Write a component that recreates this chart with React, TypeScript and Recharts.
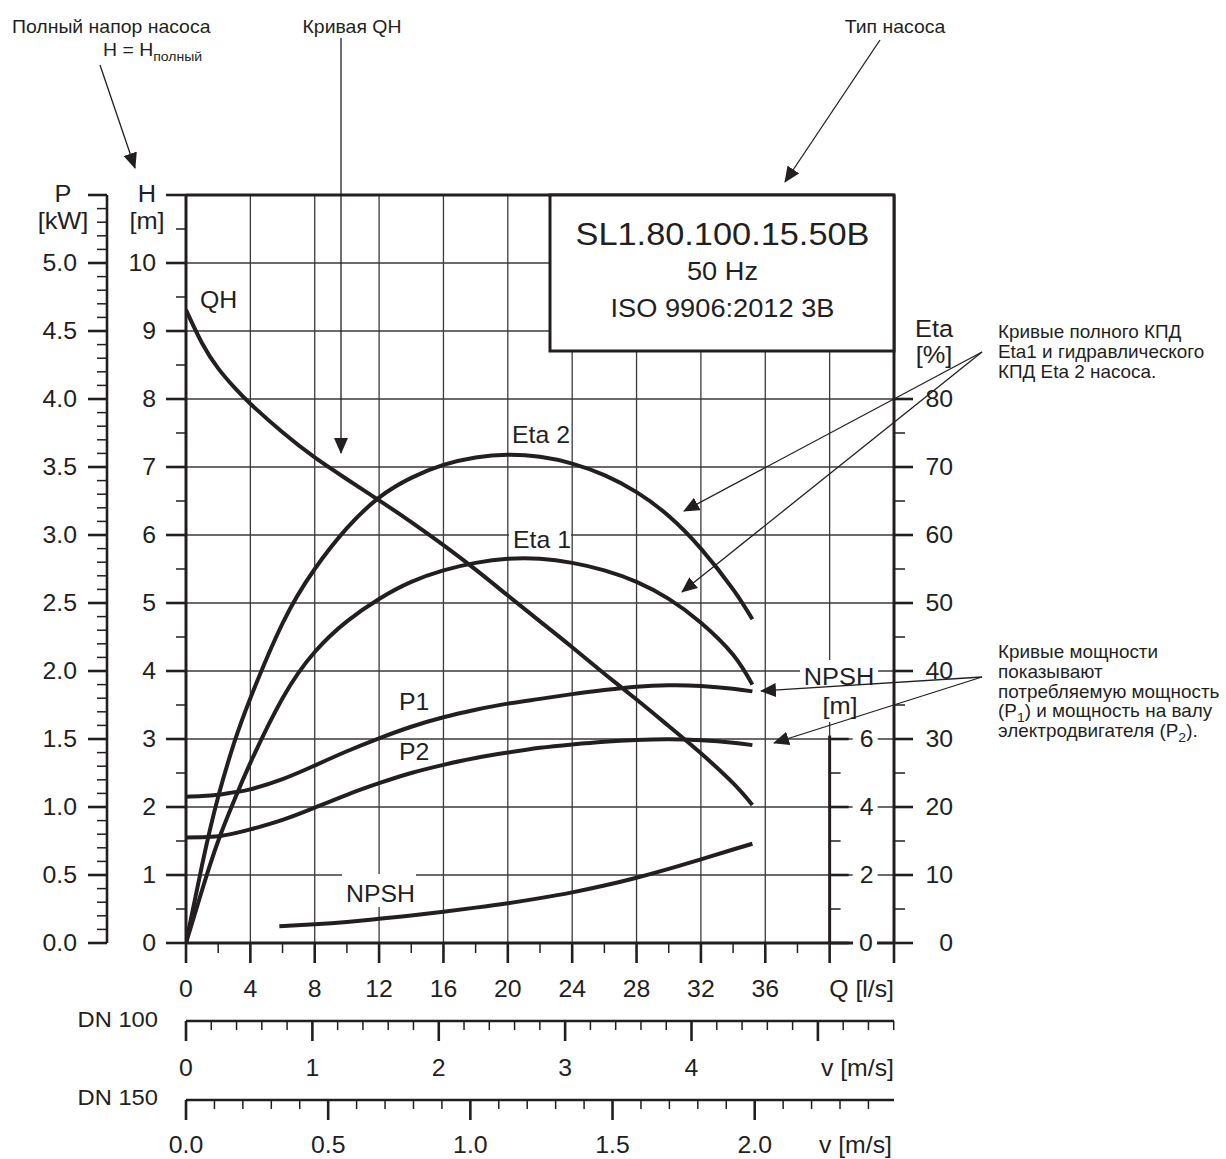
import React from 'react';
import {
  LineChart,
  Line,
  XAxis,
  YAxis,
  CartesianGrid,
  ReferenceLine,
  ReferenceDot,
} from 'recharts';

const INK = '#231f20';
const FONT = '"Liberation Sans", Arial, Helvetica, sans-serif';
const SX = 1.08; // source lettering is slightly wide

// --- curve data (Q in l/s) ---
const flow = [0, 1, 2, 3, 4, 6, 8, 10, 12, 14, 16, 18, 20, 22, 24, 26, 28, 30, 32, 34, 35.2];
const headQH = [9.31, 8.82, 8.45, 8.17, 7.93, 7.51, 7.14, 6.82, 6.51, 6.19, 5.85, 5.49, 5.11, 4.73, 4.35, 3.96, 3.58, 3.19, 2.79, 2.35, 2.03];
const eta2 = [0, 11.5, 21.5, 29.5, 36, 47, 55, 61, 65.5, 68.4, 70.3, 71.4, 71.8, 71.5, 70.5, 68.8, 66.3, 62.8, 58, 52, 47.6];
const eta1 = [0, 7.8, 15, 21, 26.5, 36, 42.8, 47.3, 50.6, 53.1, 54.8, 55.9, 56.5, 56.5, 55.9, 54.8, 53.1, 50.6, 47.1, 42.4, 38];
const powerP1 = [1.075, 1.08, 1.09, 1.108, 1.13, 1.205, 1.305, 1.41, 1.505, 1.59, 1.66, 1.715, 1.76, 1.795, 1.83, 1.86, 1.885, 1.895, 1.89, 1.87, 1.85];
const powerP2 = [0.775, 0.778, 0.785, 0.806, 0.835, 0.905, 0.995, 1.09, 1.175, 1.25, 1.31, 1.36, 1.4, 1.435, 1.46, 1.48, 1.493, 1.498, 1.49, 1.472, 1.455];
const npshFlow = [5.8, 8, 10, 12, 14, 16, 18, 20, 22, 24, 26, 28, 30, 32, 34, 35.2];
const npshReq = [0.49, 0.55, 0.62, 0.71, 0.81, 0.92, 1.04, 1.17, 1.32, 1.49, 1.69, 1.92, 2.18, 2.46, 2.75, 2.92];

// --- axes ---
const Q_MAX = 44;
const H_MAX = 11;
const DN100_AREA = Math.PI * 0.05 * 0.05 * 1000; // l/s per m/s
const DN150_AREA = Math.PI * 0.075 * 0.075 * 1000;

const range = (a: number, b: number, step: number) => {
  const out: number[] = [];
  const n = Math.round((b - a) / step);
  for (let i = 0; i <= n; i++) out.push(+(a + i * step).toFixed(4));
  return out;
};

const qTicks = range(0, 44, 2);
const hTicks = range(0, 11, 0.5);
const pTicks = range(0, 5.5, 0.1);
const etaTicks = range(0, 80, 5);
const npshTicks = [0, 1, 2, 3, 4, 5, 6];
const dn100Speeds = range(0, 5.6, 0.2);
const dn150Speeds = range(0, 2.4, 0.1);
const hGrid = range(1, 10, 1);
const qGrid = range(4, 40, 4);

const toRows = (xs: number[], ys: number[]) => xs.map((q, i) => ({ q, v: ys[i] }));
const qhData = toRows(flow, headQH);
const eta1Data = toRows(flow, eta1);
const eta2Data = toRows(flow, eta2);
const p1Data = toRows(flow, powerP1);
const p2Data = toRows(flow, powerP2);
const npshData = toRows(npshFlow, npshReq);

const isMult = (v: number, m: number) => Math.abs(v / m - Math.round(v / m)) < 1e-6;

const Txt = ({ x, y, anchor = 'start', size = 23, children }: any) => (
  <text
    transform={`translate(${x} ${y}) scale(${SX} 1)`}
    textAnchor={anchor}
    fontSize={size}
    fontFamily={FONT}
    fill={INK}
  >
    {children}
  </text>
);
const Sub = ({ children }: any) => <tspan dy={5} fontSize={13}>{children}</tspan>;
const Up = ({ children }: any) => <tspan dy={-5}>{children}</tspan>;

const tickLine = (x1: number, y1: number, x2: number, y2: number, major: boolean) => (
  <line x1={x1} y1={y1} x2={x2} y2={y2} stroke={INK} strokeWidth={major ? 2.6 : 1.5} />
);

const HTick = ({ x, y, payload }: any) => {
  const v = payload.value;
  const major = isMult(v, 1);
  return (
    <g>
      {tickLine(x - (major ? 20 : 10), y, x, y, major)}
      {major && v <= 10 && <Txt x={x - 30} y={y + 8.3} anchor="end">{v}</Txt>}
    </g>
  );
};

const PTick = ({ x, y, payload }: any) => {
  const v = payload.value;
  const major = isMult(v, 0.5);
  return (
    <g>
      {tickLine(x - (major ? 19 : 10), y, x, y, major)}
      {major && v <= 5 && <Txt x={x - 30} y={y + 8.3} anchor="end">{v.toFixed(1)}</Txt>}
    </g>
  );
};

const EtaTick = ({ x, y, payload }: any) => {
  const v = payload.value;
  const major = isMult(v, 10);
  return (
    <g>
      {tickLine(x, y, x + (major ? 19 : 11), y, major)}
      {major && <Txt x={x + 59} y={y + 8.3} anchor="end">{v}</Txt>}
    </g>
  );
};

const QTick = ({ x, y, payload }: any) => {
  const v = payload.value;
  const major = isMult(v, 4);
  return (
    <g>
      {tickLine(x, y, x, y + (major ? 20 : 10), major)}
      {v <= 36 && major && <Txt x={x} y={y + 54} anchor="middle">{v}</Txt>}
      {v === Q_MAX && <Txt x={x} y={y + 54} anchor="end">Q [l/s]</Txt>}
    </g>
  );
};

// velocity scales: tick values are flows, labels are speeds
const SpeedTick = ({ x, y, payload, area, step, last, dy, digits }: any) => {
  const s = +(payload.value / area).toFixed(4);
  const major = isMult(s, step);
  return (
    <g>
      {tickLine(x, y, x, y + (major ? 20 : 9), major)}
      {major && s <= last && <Txt x={x} y={y + dy} anchor="middle">{s.toFixed(digits)}</Txt>}
    </g>
  );
};

const NpshMark = ({ cx, cy, v }: any) => {
  const major = isMult(v, 2);
  return (
    <g>
      {tickLine(cx, cy, cx + (major ? 19 : 11), cy, major)}
      {major && v > 0 && (
        <>
          <rect x={cx + 23} y={cy - 12} width={25} height={24} fill="#fff" />
          <Txt x={cx + 37} y={cy + 8.3} anchor="middle">{v}</Txt>
        </>
      )}
    </g>
  );
};

const Arrow = ({ x1, y1, x2, y2 }: any) => (
  <line x1={x1} y1={y1} x2={x2} y2={y2} stroke={INK} strokeWidth={1.3} markerEnd="url(#head)" />
);

const curve = (data: any[], yAxisId: string, key: string) => (
  <Line
    key={key}
    data={data}
    dataKey="v"
    xAxisId="x1"
    yAxisId={yAxisId}
    type="natural"
    stroke={INK}
    strokeWidth={4}
    dot={false}
    activeDot={false}
    isAnimationActive={false}
  />
);

export default function App() {
  return (
    <div style={{ position: 'absolute', left: 0, top: 0, width: 1226, height: 1159, background: '#fff', fontFamily: FONT }}>
      <LineChart width={1226} height={1159} data={qhData} margin={{ top: 195, right: 252, bottom: 0, left: 0 }}>
        <CartesianGrid
          xAxisId="x1"
          yAxisId="h"
          horizontalValues={hGrid}
          verticalValues={qGrid}
          stroke="#3a3a3a"
          strokeWidth={1.3}
        />
        <XAxis
          xAxisId="x1"
          dataKey="q"
          type="number"
          domain={[0, Q_MAX]}
          allowDataOverflow
          ticks={qTicks}
          interval={0}
          height={78}
          tickSize={0}
          tickMargin={0}
          tickLine={false}
          axisLine={{ stroke: INK, strokeWidth: 3 }}
          tick={(p: any) => <QTick {...p} />}
        />
        <XAxis
          xAxisId="x2"
          dataKey="q"
          type="number"
          domain={[0, Q_MAX]}
          allowDataOverflow
          ticks={dn100Speeds.map((s) => s * DN100_AREA)}
          interval={0}
          height={79}
          tickSize={0}
          tickMargin={0}
          tickLine={false}
          axisLine={{ stroke: INK, strokeWidth: 2.6 }}
          tick={(p: any) => <SpeedTick {...p} area={DN100_AREA} step={1} last={4} dy={55} digits={0} />}
        />
        <XAxis
          xAxisId="x3"
          dataKey="q"
          type="number"
          domain={[0, Q_MAX]}
          allowDataOverflow
          ticks={dn150Speeds.map((s) => s * DN150_AREA)}
          interval={0}
          height={59}
          tickSize={0}
          tickMargin={0}
          tickLine={false}
          axisLine={{ stroke: INK, strokeWidth: 2.6 }}
          tick={(p: any) => <SpeedTick {...p} area={DN150_AREA} step={0.5} last={2} dy={53} digits={1} />}
        />
        <YAxis
          yAxisId="h"
          orientation="left"
          type="number"
          domain={[0, H_MAX]}
          allowDataOverflow
          ticks={hTicks}
          interval={0}
          width={79}
          tickSize={0}
          tickMargin={0}
          tickLine={false}
          axisLine={{ stroke: INK, strokeWidth: 3 }}
          tick={(p: any) => <HTick {...p} />}
        />
        <YAxis
          yAxisId="p"
          orientation="left"
          type="number"
          domain={[0, 5.5]}
          allowDataOverflow
          ticks={pTicks}
          interval={0}
          width={107}
          tickSize={0}
          tickMargin={0}
          tickLine={false}
          axisLine={{ stroke: INK, strokeWidth: 2.6 }}
          tick={(p: any) => <PTick {...p} />}
        />
        <YAxis
          yAxisId="eta"
          orientation="right"
          type="number"
          domain={[0, 110]}
          allowDataOverflow
          ticks={etaTicks}
          interval={0}
          width={80}
          tickSize={0}
          tickMargin={0}
          tickLine={false}
          axisLine={{ stroke: INK, strokeWidth: 3 }}
          tick={(p: any) => <EtaTick {...p} />}
        />
        <YAxis yAxisId="npsh" orientation="right" width={0} hide type="number" domain={[0, 22]} allowDataOverflow />

        <ReferenceLine xAxisId="x1" yAxisId="h" y={H_MAX} stroke={INK} strokeWidth={3} />
        <ReferenceLine
          xAxisId="x1"
          yAxisId="npsh"
          segment={[{ x: 40, y: 0 }, { x: 40, y: 6.1 }]}
          stroke={INK}
          strokeWidth={3}
        />
        {npshTicks.map((t) => (
          <ReferenceDot
            key={`n${t}`}
            xAxisId="x1"
            yAxisId="npsh"
            x={40}
            y={t}
            r={0}
            shape={(p: any) => <NpshMark {...p} v={t} />}
          />
        ))}

        {curve(qhData, 'h', 'qh')}
        {curve(eta2Data, 'eta', 'eta2')}
        {curve(eta1Data, 'eta', 'eta1')}
        {curve(p1Data, 'p', 'p1')}
        {curve(p2Data, 'p', 'p2')}
        {curve(npshData, 'npsh', 'npsh')}
      </LineChart>

      <svg
        width={1226}
        height={1159}
        style={{ position: 'absolute', left: 0, top: 0, pointerEvents: 'none' }}
      >
        <defs>
          <marker id="head" markerWidth={16} markerHeight={14} refX={15} refY={7} orient="auto" markerUnits="userSpaceOnUse">
            <path d="M0,0 L16,7 L0,14 z" fill={INK} />
          </marker>
        </defs>

        {/* type plate */}
        <rect x={550} y={195} width={344} height={156} fill="#fff" stroke={INK} strokeWidth={3} />
        <Txt x={722.5} y={245} anchor="middle" size={31.8}>SL1.80.100.15.50B</Txt>
        <Txt x={722.5} y={280} anchor="middle" size={25.2}>50 Hz</Txt>
        <Txt x={722.5} y={316.7} anchor="middle" size={25.2}>ISO 9906:2012 3B</Txt>

        {/* axis titles */}
        <Txt x={63} y={201.7} anchor="middle" size={23.5}>P</Txt>
        <Txt x={63} y={229} anchor="middle" size={23.5}>[kW]</Txt>
        <Txt x={147} y={201.7} anchor="middle" size={23.5}>H</Txt>
        <Txt x={147} y={229} anchor="middle" size={23.5}>[m]</Txt>
        <Txt x={934} y={336.7} anchor="middle" size={23.5}>Eta</Txt>
        <Txt x={934} y={363} anchor="middle" size={23.5}>[%]</Txt>
        <rect x={800} y={660} width={78} height={62} fill="#fff" />
        <Txt x={839} y={685} anchor="middle" size={23.5}>NPSH</Txt>
        <Txt x={840} y={714} anchor="middle" size={23.5}>[m]</Txt>
        <rect x={853} y={932} width={24} height={22} fill="#fff" />
        <Txt x={866} y={951.3} anchor="middle">0</Txt>
        <Txt x={158} y={1026.7} anchor="end" size={22}>DN 100</Txt>
        <Txt x={158} y={1105} anchor="end" size={22}>DN 150</Txt>
        <Txt x={894} y={1076} anchor="end">v [m/s]</Txt>
        <Txt x={892} y={1153} anchor="end">v [m/s]</Txt>

        {/* curve labels */}
        <Txt x={200} y={308}>QH</Txt>
        <Txt x={512} y={443}>Eta 2</Txt>
        <rect x={509} y={528} width={62} height={24} fill="#fff" />
        <Txt x={513} y={548}>Eta 1</Txt>
        <Txt x={399} y={710}>P1</Txt>
        <rect x={395} y={741} width={35} height={23} fill="#fff" />
        <Txt x={399} y={760}>P2</Txt>
        <rect x={342} y={874} width={74} height={33} fill="#fff" />
        <Txt x={346} y={901.7}>NPSH</Txt>

        {/* annotations */}
        <Txt x={12} y={33} size={18}>Полный напор насоса</Txt>
        <Txt x={103} y={56} size={18}>
          H = H<Sub>полный</Sub>
        </Txt>
        <Txt x={352} y={33} anchor="middle" size={18}>Кривая QH</Txt>
        <Txt x={895} y={33} anchor="middle" size={18}>Тип насоса</Txt>
        <Arrow x1={100} y1={65} x2={135} y2={168} />
        <Arrow x1={341} y1={38} x2={341} y2={453} />
        <Arrow x1={880} y1={40} x2={785} y2={182} />

        <Txt x={998} y={338} size={17.5}>Кривые полного КПД</Txt>
        <Txt x={998} y={358} size={17.5}>Eta1 и гидравлического</Txt>
        <Txt x={998} y={378} size={17.5}>КПД Eta 2 насоса.</Txt>
        <Arrow x1={982} y1={352} x2={684} y2={511} />
        <Arrow x1={982} y1={352} x2={682} y2={592} />

        <Txt x={998} y={658} size={17.5}>Кривые мощности</Txt>
        <Txt x={998} y={678} size={17.5}>показывают</Txt>
        <Txt x={998} y={697.5} size={17.5}>потребляемую мощность</Txt>
        <Txt x={998} y={717} size={17.5}>
          (P<Sub>1</Sub><Up>) и мощность на валу</Up>
        </Txt>
        <Txt x={998} y={736.5} size={17.5}>
          электродвигателя (P<Sub>2</Sub><Up>).</Up>
        </Txt>
        <Arrow x1={982} y1={677} x2={761} y2={691} />
        <Arrow x1={982} y1={677} x2={774} y2={743} />
      </svg>
    </div>
  );
}
